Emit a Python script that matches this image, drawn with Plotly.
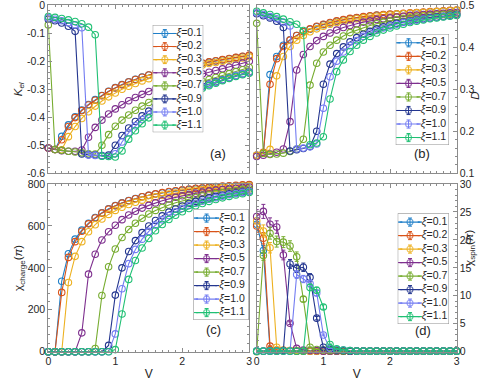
import plotly.graph_objects as go

# V grid
V = [0.0, 0.1, 0.2, 0.3, 0.4, 0.5, 0.6, 0.7, 0.8, 0.9, 1.0,
     1.1, 1.2, 1.3, 1.4, 1.5, 1.6, 1.7, 1.8, 1.9, 2.0,
     2.1, 2.2, 2.3, 2.4, 2.5, 2.6, 2.7, 2.8, 2.9, 3.0]

xi_labels = ["0.1", "0.2", "0.3", "0.5", "0.7", "0.9", "1.0", "1.1"]
colors = ["#1f7fc8", "#d95319", "#edb120", "#7e2f8e", "#77ac30", "#24368f", "#737cf2", "#20c074"]

# (a) K_el
kel_01 = [-0.510, -0.515, -0.468, -0.427, -0.398, -0.374, -0.354, -0.337, -0.322, -0.307, -0.294,
          -0.283, -0.273, -0.264, -0.256, -0.249, -0.242, -0.236, -0.230, -0.225, -0.220,
          -0.215, -0.211, -0.207, -0.203, -0.199, -0.195, -0.191, -0.187, -0.183, -0.179]
kel_02 = [-0.510, -0.515, -0.480, -0.433, -0.401, -0.376, -0.356, -0.339, -0.323, -0.308, -0.295,
          -0.284, -0.274, -0.265, -0.257, -0.249, -0.242, -0.236, -0.230, -0.224, -0.219,
          -0.214, -0.210, -0.206, -0.202, -0.198, -0.194, -0.190, -0.186, -0.182, -0.178]
kel_03 = [-0.510, -0.515, -0.516, -0.469, -0.433, -0.404, -0.380, -0.360, -0.342, -0.327, -0.313,
          -0.300, -0.289, -0.279, -0.270, -0.262, -0.254, -0.247, -0.240, -0.234, -0.228,
          -0.223, -0.218, -0.213, -0.208, -0.204, -0.200, -0.196, -0.192, -0.188, -0.184]
kel_05 = [-0.510, -0.515, -0.519, -0.521, -0.521, -0.517, -0.471, -0.436, -0.410, -0.388, -0.370,
          -0.355, -0.341, -0.329, -0.318, -0.308, -0.298, -0.289, -0.280, -0.272, -0.265,
          -0.258, -0.251, -0.245, -0.239, -0.233, -0.227, -0.221, -0.214, -0.207, -0.200]
kel_07 = [-0.070, -0.515, -0.518, -0.521, -0.524, -0.527, -0.530, -0.531, -0.500, -0.462, -0.432,
          -0.410, -0.392, -0.375, -0.360, -0.347, -0.336, -0.325, -0.315, -0.306, -0.297,
          -0.288, -0.280, -0.272, -0.265, -0.258, -0.251, -0.244, -0.237, -0.230, -0.222]
kel_09 = [-0.050, -0.055, -0.063, -0.075, -0.093, -0.531, -0.534, -0.535, -0.537, -0.535, -0.500,
          -0.465, -0.438, -0.415, -0.395, -0.378, -0.362, -0.349, -0.337, -0.326, -0.316,
          -0.306, -0.297, -0.289, -0.281, -0.273, -0.266, -0.259, -0.252, -0.245, -0.238]
kel_10 = [-0.045, -0.050, -0.055, -0.062, -0.070, -0.080, -0.535, -0.536, -0.538, -0.539, -0.530,
          -0.488, -0.455, -0.430, -0.408, -0.389, -0.372, -0.357, -0.344, -0.332, -0.321,
          -0.311, -0.301, -0.292, -0.283, -0.275, -0.267, -0.259, -0.251, -0.245, -0.240]
kel_11 = [-0.040, -0.043, -0.047, -0.052, -0.058, -0.066, -0.078, -0.105, -0.539, -0.540, -0.542,
          -0.520, -0.478, -0.448, -0.423, -0.402, -0.383, -0.367, -0.352, -0.339, -0.327,
          -0.316, -0.306, -0.296, -0.287, -0.278, -0.269, -0.261, -0.254, -0.248, -0.243]

# (b) D
d_01 = [0.143, 0.148, 0.335, 0.378, 0.405, 0.418, 0.428, 0.437, 0.443, 0.449, 0.454,
        0.458, 0.462, 0.465, 0.468, 0.470, 0.472, 0.474, 0.476, 0.477, 0.478,
        0.479, 0.480, 0.481, 0.482, 0.483, 0.484, 0.485, 0.486, 0.487, 0.488]
d_02 = [0.143, 0.150, 0.312, 0.373, 0.402, 0.417, 0.428, 0.437, 0.444, 0.450, 0.455,
        0.459, 0.463, 0.466, 0.469, 0.471, 0.473, 0.475, 0.477, 0.478, 0.479,
        0.480, 0.481, 0.482, 0.483, 0.484, 0.485, 0.486, 0.487, 0.488, 0.489]
d_03 = [0.143, 0.148, 0.157, 0.332, 0.378, 0.402, 0.417, 0.428, 0.437, 0.444, 0.450,
        0.455, 0.459, 0.462, 0.465, 0.468, 0.470, 0.472, 0.474, 0.476, 0.477,
        0.479, 0.480, 0.481, 0.482, 0.483, 0.484, 0.485, 0.486, 0.487, 0.488]
d_05 = [0.140, 0.143, 0.146, 0.150, 0.158, 0.223, 0.346, 0.383, 0.402, 0.416, 0.426,
        0.434, 0.441, 0.447, 0.452, 0.456, 0.460, 0.463, 0.466, 0.468, 0.470,
        0.472, 0.474, 0.476, 0.477, 0.478, 0.479, 0.480, 0.481, 0.482, 0.483]
d_07 = [0.457, 0.147, 0.145, 0.146, 0.148, 0.152, 0.158, 0.181, 0.310, 0.362, 0.389,
        0.405, 0.417, 0.427, 0.435, 0.441, 0.447, 0.452, 0.456, 0.460, 0.463,
        0.466, 0.468, 0.470, 0.472, 0.474, 0.475, 0.477, 0.478, 0.479, 0.480]
d_09 = [0.480, 0.475, 0.470, 0.462, 0.447, 0.153, 0.156, 0.159, 0.164, 0.200, 0.312,
        0.360, 0.385, 0.401, 0.413, 0.423, 0.431, 0.438, 0.444, 0.449, 0.453,
        0.457, 0.460, 0.463, 0.466, 0.468, 0.470, 0.472, 0.474, 0.476, 0.478]
d_10 = [0.482, 0.478, 0.473, 0.468, 0.460, 0.451, 0.158, 0.160, 0.163, 0.170, 0.255,
        0.330, 0.367, 0.389, 0.404, 0.416, 0.426, 0.434, 0.440, 0.446, 0.451,
        0.455, 0.459, 0.462, 0.465, 0.467, 0.469, 0.471, 0.473, 0.475, 0.477]
d_11 = [0.486, 0.482, 0.478, 0.473, 0.467, 0.461, 0.455, 0.440, 0.168, 0.172, 0.187,
        0.277, 0.342, 0.370, 0.390, 0.405, 0.417, 0.426, 0.434, 0.441, 0.446,
        0.451, 0.455, 0.459, 0.462, 0.465, 0.468, 0.470, 0.472, 0.474, 0.476]

# (c) chi_charge(pi)
cc_01 = [0, 0, 336, 467, 537, 580, 613, 640, 663, 682, 697, 710, 721, 731, 739, 746,
         752, 757, 762, 766, 770, 774, 777, 780, 783, 786, 788, 790, 792, 794, 796]
cc_02 = [0, 0, 283, 450, 525, 575, 610, 638, 661, 680, 696, 709, 720, 730, 739, 746,
         753, 759, 764, 768, 772, 776, 779, 782, 785, 788, 790, 792, 794, 796, 798]
cc_03 = [0, 0, 0, 330, 455, 525, 572, 606, 633, 655, 674, 689, 702, 713, 723, 731,
         739, 746, 752, 757, 762, 766, 770, 774, 777, 780, 783, 786, 788, 790, 792]
cc_05 = [0, 0, 0, 0, 0, 90, 370, 465, 533, 572, 603, 630, 652, 670, 685, 698,
         710, 720, 729, 737, 744, 750, 756, 761, 766, 770, 774, 777, 780, 783, 786]
cc_07 = [0, 0, 0, 0, 0, 0, 0, 15, 268, 405, 490, 545, 583, 613, 637, 657,
         674, 688, 700, 711, 720, 729, 736, 743, 749, 754, 759, 764, 768, 772, 776]
cc_09 = [0, 0, 0, 0, 0, 0, 0, 0, 0, 30, 270, 400, 478, 530, 568, 600,
         626, 648, 666, 681, 695, 707, 717, 726, 734, 741, 747, 753, 758, 763, 767]
cc_10 = [0, 0, 0, 0, 0, 0, 0, 0, 0, 0, 85, 300, 420, 488, 537, 574,
         604, 629, 650, 668, 683, 697, 708, 718, 727, 735, 742, 749, 755, 760, 765]
cc_11 = [0, 0, 0, 0, 0, 0, 0, 0, 0, 0, 10, 180, 345, 435, 495, 540,
         577, 607, 631, 651, 668, 683, 696, 707, 717, 726, 734, 741, 748, 754, 760]

# (d) chi_spin(pi)
cs_01 = [22.8, 18.1, 0.3, 0.2, 0.2, 0.1, 0.1, 0.1, 0.1, 0.1, 0.1, 0.1, 0.1, 0.1, 0.1, 0.1,
         0.1, 0.1, 0.1, 0.1, 0.1, 0.1, 0.1, 0.1, 0.1, 0.1, 0.1, 0.1, 0.1, 0.1, 0.1]
cs_02 = [22.5, 20.3, 1.0, 0.3, 0.2, 0.2, 0.1, 0.1, 0.1, 0.1, 0.1, 0.1, 0.1, 0.1, 0.1, 0.1,
         0.1, 0.1, 0.1, 0.1, 0.1, 0.1, 0.1, 0.1, 0.1, 0.1, 0.1, 0.1, 0.1, 0.1, 0.1]
cs_03 = [23.4, 21.6, 18.6, 0.8, 0.3, 0.2, 0.2, 0.1, 0.1, 0.1, 0.1, 0.1, 0.1, 0.1, 0.1, 0.1,
         0.1, 0.1, 0.1, 0.1, 0.1, 0.1, 0.1, 0.1, 0.1, 0.1, 0.1, 0.1, 0.1, 0.1, 0.1]
cs_05 = [24.2, 25.1, 22.8, 22.3, 17.3, 5.1, 0.6, 0.3, 0.2, 0.2, 0.1, 0.1, 0.1, 0.1, 0.1, 0.1,
         0.1, 0.1, 0.1, 0.1, 0.1, 0.1, 0.1, 0.1, 0.1, 0.1, 0.1, 0.1, 0.1, 0.1, 0.1]
cs_07 = [0.0, 17.2, 21.2, 19.7, 19.6, 18.9, 17.0, 9.4, 0.8, 0.4, 0.3, 0.2, 0.2, 0.1, 0.1, 0.1,
         0.1, 0.1, 0.1, 0.1, 0.1, 0.1, 0.1, 0.1, 0.1, 0.1, 0.1, 0.1, 0.1, 0.1, 0.1]
cs_09 = [0.1, 0.1, 0.1, 0.1, 0.2, 15.7, 14.9, 15.1, 13.3, 6.0, 0.8, 0.4, 0.3, 0.2, 0.1, 0.1,
         0.1, 0.1, 0.1, 0.1, 0.1, 0.1, 0.1, 0.1, 0.1, 0.1, 0.1, 0.1, 0.1, 0.1, 0.1]
cs_10 = [0.1, 0.1, 0.1, 0.1, 0.1, 0.1, 13.8, 13.0, 12.2, 10.5, 3.0, 0.6, 0.4, 0.3, 0.2, 0.1,
         0.1, 0.1, 0.1, 0.1, 0.1, 0.1, 0.1, 0.1, 0.1, 0.1, 0.1, 0.1, 0.1, 0.1, 0.1]
cs_11 = [0.1, 0.1, 0.1, 0.1, 0.1, 0.1, 0.1, 0.1, 11.5, 11.0, 8.0, 1.3, 0.5, 0.3, 0.2, 0.1,
         0.1, 0.1, 0.1, 0.1, 0.1, 0.1, 0.1, 0.1, 0.1, 0.1, 0.1, 0.1, 0.1, 0.1, 0.1]

panels = [
    [kel_01, kel_02, kel_03, kel_05, kel_07, kel_09, kel_10, kel_11],
    [d_01, d_02, d_03, d_05, d_07, d_09, d_10, d_11],
    [cc_01, cc_02, cc_03, cc_05, cc_07, cc_09, cc_10, cc_11],
    [cs_01, cs_02, cs_03, cs_05, cs_07, cs_09, cs_10, cs_11],
]
panel_tags = ["(a)", "(b)", "(c)", "(d)"]

FONT = "Liberation Sans"
TXT = "#262626"
FRAME = "#8c8c8c"

fig = go.Figure()

for p, series in enumerate(panels):
    ax = "" if p == 0 else str(p + 1)
    for s, col in zip(series, colors):
        err = dict(type="percent", value=5, thickness=1, width=2, color=col) if p == 3 else None
        fig.add_trace(go.Scatter(
            x=V, y=s, xaxis="x" + ax, yaxis="y" + ax, mode="lines+markers",
            line=dict(color=col, width=1.1),
            marker=dict(symbol="circle-open", size=6.5, color=col, line=dict(width=1.1)),
            error_y=err, cliponaxis=False, showlegend=False, hoverinfo="skip",
        ))

# hand-made legends (one per panel), each in its own little axes
LEG_TOP, LEG_BOT = -0.65, 7.55
leg_boxes = [
    ([0.311, 0.414], [0.6537, 0.9346]),
    ([0.806, 0.9145], [0.6204, 0.911]),
    ([0.3937, 0.5066], [0.1623, 0.4521]),
    ([0.810, 0.9145], [0.1518, 0.4416]),
]
for p in range(4):
    n = str(p + 5)
    fig.add_trace(go.Scatter(
        x=[0, 1, 1, 0, 0], y=[LEG_TOP, LEG_TOP, LEG_BOT, LEG_BOT, LEG_TOP],
        xaxis="x" + n, yaxis="y" + n, mode="lines", fill="toself",
        fillcolor="white", line=dict(color=FRAME, width=1),
        showlegend=False, hoverinfo="skip",
    ))
    for i, col in enumerate(colors):
        fig.add_trace(go.Scatter(
            x=[0.05, 0.24, 0.43], y=[i, i, i], xaxis="x" + n, yaxis="y" + n,
            mode="lines+markers", line=dict(color=col, width=1.1),
            marker=dict(symbol="circle-open", size=[0, 6, 0], color=col, line=dict(width=1.1)),
            error_y=dict(type="data", array=[0, 0.3, 0], thickness=1, width=2, color=col),
            showlegend=False, hoverinfo="skip",
        ))
    fig.add_trace(go.Scatter(
        x=[0.47] * len(xi_labels), y=list(range(len(xi_labels))),
        text=["<i>ξ</i>=" + t for t in xi_labels], mode="text",
        textposition="middle right", textfont=dict(family=FONT, size=10.5, color=TXT),
        xaxis="x" + n, yaxis="y" + n, showlegend=False, hoverinfo="skip",
    ))

x_left = [0.0984, 0.5077]
x_right = [0.5228, 0.9301]
y_top = [0.5463, 0.9861]
y_bot = [0.0793, 0.5183]

def xax(domain, anchor, labels):
    d = dict(domain=domain, anchor=anchor, range=[0, 3], tickvals=[0, 1, 2, 3],
             ticktext=["0", "1", "2", "3"], showticklabels=labels, automargin=False,
             ticks="inside", ticklen=4, tickcolor=FRAME, showline=True, linecolor=FRAME,
             linewidth=1, mirror="allticks", showgrid=False, zeroline=False,
             minor=dict(ticks="inside", ticklen=2, dtick=0.1, tickcolor=FRAME),
             tickfont=dict(family=FONT, size=10.5, color=TXT))
    if labels:
        d["title"] = dict(text="V", font=dict(family=FONT, size=12, color=TXT), standoff=3)
    return d

def yax(domain, anchor, rng, vals, texts, side, title, minor):
    d = dict(domain=domain, anchor=anchor, range=rng, tickvals=vals, ticktext=texts, side=side,
             ticks="inside", ticklen=4, tickcolor=FRAME, showline=True, linecolor=FRAME,
             linewidth=1, mirror="allticks", showgrid=False, zeroline=False, automargin=False,
             ticklabeloverflow="allow",
             minor=dict(ticks="inside", ticklen=2, dtick=minor, tickcolor=FRAME),
             tickfont=dict(family=FONT, size=10.5, color=TXT))
    if title:
        d["title"] = dict(text=title, font=dict(family=FONT, size=11.5, color=TXT), standoff=2)
    return d

layout = dict(
    width=491, height=382, margin=dict(l=0, r=0, t=0, b=0),
    paper_bgcolor="white", plot_bgcolor="white", showlegend=False,
    xaxis=xax(x_left, "y", False),
    yaxis=yax(y_top, "x", [-0.6, 0], [-0.6, -0.5, -0.4, -0.3, -0.2, -0.1, 0],
              ["-0.6", "-0.5", "-0.4", "-0.3", "-0.2", "-0.1", "0"], "left",
              "<i>K</i><sub><i>el</i></sub>", 0.02),
    xaxis2=xax(x_right, "y2", False),
    yaxis2=yax(y_top, "x2", [0.1, 0.5], [0.1, 0.2, 0.3, 0.4, 0.5],
               ["0.1", "0.2", "0.3", "0.4", "0.5"], "right", None, 0.02),
    xaxis3=xax(x_left, "y3", True),
    yaxis3=yax(y_bot, "x3", [0, 800], [0, 200, 400, 600, 800],
               ["0", "200", "400", "600", "800"], "left", "χ<sub>charge</sub>(<i>π</i>)", 40),
    xaxis4=xax(x_right, "y4", True),
    yaxis4=yax(y_bot, "x4", [0, 30], [0, 5, 10, 15, 20, 25, 30],
               ["0", "5", "10", "15", "20", "25", "30"], "right", None, 1),
)
for p, (dx, dy) in enumerate(leg_boxes):
    n = str(p + 5)
    layout["xaxis" + n] = dict(domain=dx, anchor="y" + n, range=[0, 1], visible=False, fixedrange=True)
    layout["yaxis" + n] = dict(domain=dy, anchor="x" + n, range=[LEG_BOT, LEG_TOP], visible=False, fixedrange=True)

fig.update_layout(**layout)

# right-hand axis titles, set as rotated text just inside the page edge
fig.add_annotation(text="<i>D</i>", xref="paper", yref="paper", x=0.985, y=0.764,
                   textangle=-90, showarrow=False, font=dict(family=FONT, size=11.5, color=TXT))
fig.add_annotation(text="χ<sub>spin</sub>(<i>π</i>)", xref="paper", yref="paper", x=0.975, y=0.298,
                   textangle=-90, showarrow=False, font=dict(family=FONT, size=11.5, color=TXT))

tag_pos = [(0.894, 0.061), (0.875, 0.061), (0.868, 0.075), (0.88, 0.07)]
for p, tag in enumerate(panel_tags):
    ax = "" if p == 0 else str(p + 1)
    fig.add_annotation(text=tag, xref="x" + ax + " domain", yref="y" + ax + " domain",
                       x=tag_pos[p][0], y=tag_pos[p][1], showarrow=False,
                       font=dict(family=FONT, size=13, color=TXT))

# the page body has an 8px default margin; drop it so the figure sits at the window corner
fig.write_html("out.html", config={"displayModeBar": False},
               post_script="document.body.style.margin='0';")
